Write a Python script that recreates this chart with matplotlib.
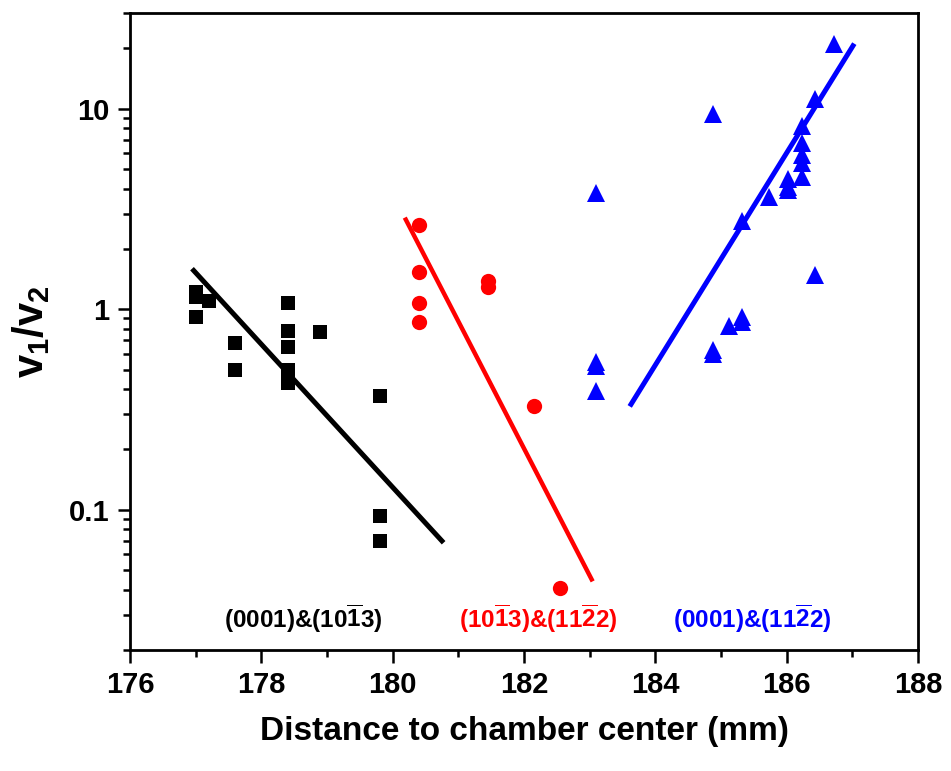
import matplotlib.pyplot as plt
from matplotlib.ticker import MultipleLocator, LogLocator, NullFormatter, FixedLocator, FixedFormatter

plt.rcParams['font.family'] = ['Liberation Sans', 'DejaVu Sans']
plt.rcParams['font.weight'] = 'bold'
plt.rcParams['mathtext.fontset'] = 'custom'
plt.rcParams['mathtext.rm'] = 'Liberation Sans:bold'
plt.rcParams['mathtext.bf'] = 'Liberation Sans:bold'
plt.rcParams['mathtext.it'] = 'Liberation Sans:bold'

# (0001)&(10-13) - schwarze Quadrate
x_blk = [177.0, 177.0, 177.2, 177.0, 177.6, 177.6, 178.4, 178.4, 178.4, 178.4, 178.4, 178.9, 179.8, 179.8, 179.8]
y_blk = [1.22, 1.15, 1.10, 0.92, 0.68, 0.50, 1.08, 0.78, 0.65, 0.50, 0.43, 0.77, 0.37, 0.093, 0.070]
fit_blk_x = [176.97, 180.75]
fit_blk_y = [1.56, 0.070]

# (10-13)&(11-22) - rote Kreise
x_red = [180.4, 180.4, 180.4, 180.4, 181.45, 181.45, 182.15, 182.55]
y_red = [2.62, 1.53, 1.07, 0.86, 1.38, 1.29, 0.33, 0.041]
fit_red_x = [180.2, 183.03]
fit_red_y = [2.80, 0.045]

# (0001)&(11-22) - blaue Dreiecke
x_blu = [186.72, 186.43, 184.88, 186.23, 186.23, 186.23, 186.23, 186.23, 186.02, 186.02, 186.02,
         185.73, 185.32, 183.1, 186.43, 185.32, 185.32, 185.12, 184.88, 184.88, 183.1, 183.1, 183.1]
y_blu = [21.0, 11.2, 9.44, 8.23, 6.78, 5.90, 5.39, 4.59, 4.48, 4.09, 3.95,
         3.61, 2.77, 3.82, 1.49, 0.92, 0.86, 0.83, 0.63, 0.60, 0.545, 0.52, 0.39]
fit_blu_x = [183.63, 187.01]
fit_blu_y = [0.336, 20.6]

labels = [r'(0001)&(10$\overline{1}$3)',
          r'(10$\overline{1}$3)&(11$\overline{2}$2)',
          r'(0001)&(11$\overline{2}$2)']
label_x = [178.64, 182.21, 185.47]
label_y = [0.0287, 0.0287, 0.0287]
colors = ['black', 'red', 'blue']

fig = plt.figure(figsize=(9.51, 7.71), dpi=100)
ax = fig.add_axes([0.1367, 0.1569, 0.8286, 0.8262])

ax.plot(x_blk, y_blk, 's', color='black', ms=9.5, mew=0)
ax.plot(fit_blk_x, fit_blk_y, '-', color='black', lw=3.6)
ax.plot(x_red, y_red, 'o', color='red', ms=11, mew=0)
ax.plot(fit_red_x, fit_red_y, '-', color='red', lw=3.2)
ax.plot(x_blu, y_blu, '^', color='blue', ms=12.5, mew=0)
ax.plot(fit_blu_x, fit_blu_y, '-', color='blue', lw=3.6)

for t, lx, ly, c in zip(labels, label_x, label_y, colors):
    ax.text(lx, ly, t, color=c, fontsize=17.5, ha='center', va='center')

ax.set_yscale('log')
ax.set_xlim(176, 188)
ax.set_ylim(0.02, 30)
ax.xaxis.set_major_locator(MultipleLocator(2))
ax.xaxis.set_minor_locator(MultipleLocator(1))
ax.yaxis.set_major_locator(FixedLocator([0.1, 1, 10]))
ax.yaxis.set_major_formatter(FixedFormatter(['0.1', '1', '10']))
ax.yaxis.set_minor_locator(LogLocator(base=10, subs=range(2, 10)))
ax.yaxis.set_minor_formatter(NullFormatter())

ax.tick_params(which='both', direction='out', width=1.8, labelsize=21, top=False, right=False)
ax.tick_params(which='major', length=9, pad=6)
ax.tick_params(which='minor', length=5)
for s in ax.spines.values():
    s.set_linewidth(2)

ax.set_xlabel('Distance to chamber center (mm)', fontsize=24, fontweight='bold', labelpad=12)
ax.set_ylabel(r'$v_1/v_2$', fontsize=30, labelpad=12)

plt.savefig('out.png', dpi=100)
